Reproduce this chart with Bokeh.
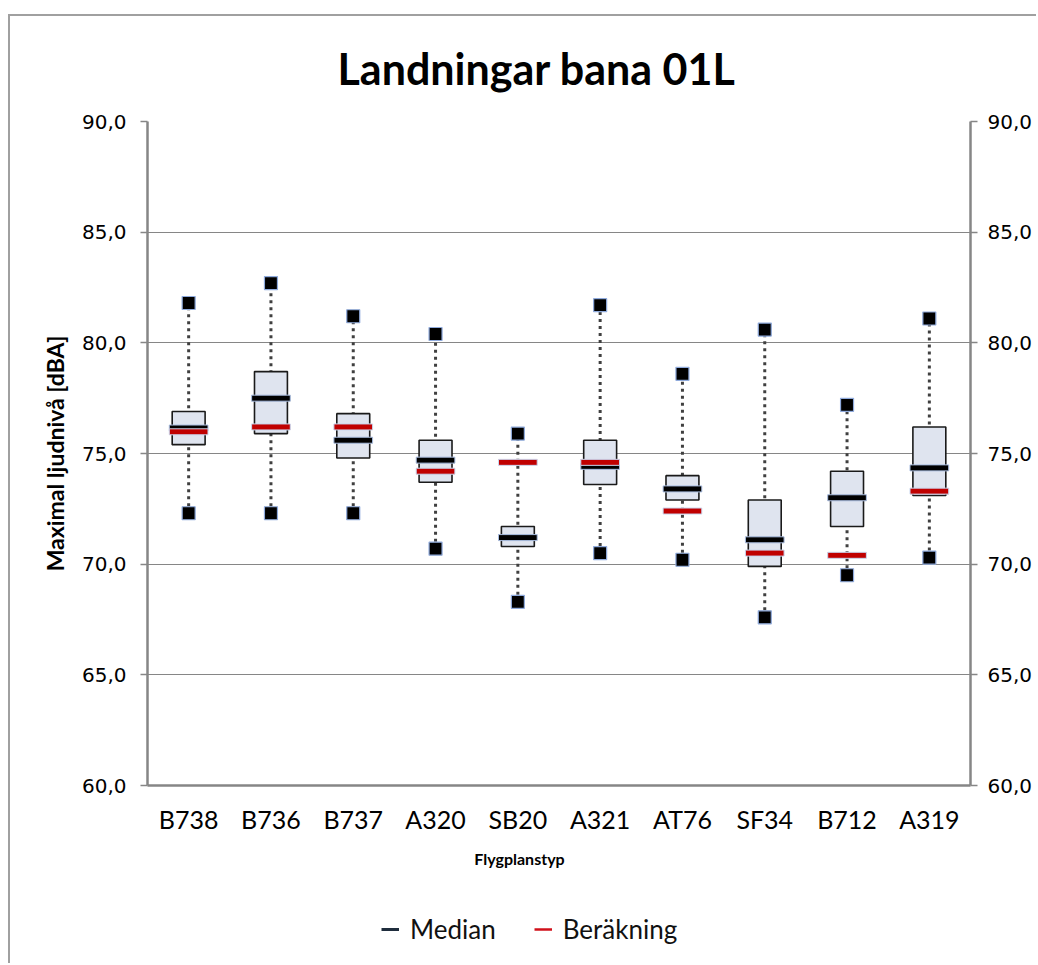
from bokeh.plotting import figure
from bokeh.models import (ColumnDataSource, LinearAxis, FixedTicker, CustomJSTickFormatter,
                          Legend, LegendItem, Range1d, FactorRange, Label)
from bokeh.layouts import column
from bokeh.embed import file_html
from bokeh.resources import INLINE

categories = ["B738", "B736", "B737", "A320", "SB20", "A321", "AT76", "SF34", "B712", "A319"]
max_vals = [81.8, 82.7, 81.2, 80.4, 75.9, 81.7, 78.6, 80.6, 77.2, 81.1]
min_vals = [72.3, 72.3, 72.3, 70.7, 68.3, 70.5, 70.2, 67.6, 69.5, 70.3]
q3_vals = [76.9, 78.7, 76.8, 75.6, 71.7, 75.6, 74.0, 72.9, 74.2, 76.2]
q1_vals = [75.4, 75.9, 74.8, 73.7, 70.8, 73.6, 72.9, 69.9, 71.7, 73.1]
median_vals = [76.15, 77.5, 75.6, 74.7, 71.2, 74.42, 73.4, 71.1, 73.0, 74.35]
berakning_vals = [75.98, 76.2, 76.2, 74.2, 74.6, 74.6, 72.4, 70.5, 70.4, 73.3]
y_ticks = [60, 65, 70, 75, 80, 85, 90]

src = ColumnDataSource(dict(cat=categories, lo=min_vals, hi=max_vals, q1=q1_vals,
                            q3=q3_vals, med=median_vals, ber=berakning_vals))

GRAY = "#868686"
W = 1036
H_TOP = 840
H_BOT = 123
FRAME_L = 147
FRAME_R = 970

p = figure(x_range=FactorRange(*categories), y_range=Range1d(60, 90),
           width=W, height=H_TOP, output_backend="svg", toolbar_location=None,
           min_border_left=FRAME_L, min_border_right=W - FRAME_R, min_border_top=121,
           min_border_bottom=55, title="Landningar bana 01L")
p.border_fill_alpha = 0
p.background_fill_color = "#ffffff"

p.title.align = "left"
p.title.offset = 190
p.title.text_font = "Lato"
p.title.text_font_size = "43px"
p.title.text_font_style = "bold"
p.title.text_color = "#000000"
p.title.standoff = 56
p.outline_line_color = None

# Grid
p.xgrid.grid_line_color = None
p.ygrid.grid_line_color = GRAY
p.ygrid.grid_line_width = 1.2
p.ygrid.ticker = FixedTicker(ticks=y_ticks)

fmt = CustomJSTickFormatter(code="return tick.toFixed(1).replace('.', ',');")

# left axis
ya = p.yaxis[0]
ya.ticker = FixedTicker(ticks=y_ticks)
ya.formatter = fmt
ya.axis_line_color = GRAY
ya.axis_line_width = 2.5
ya.major_tick_line_color = GRAY
ya.major_tick_line_width = 1.5
ya.major_tick_out = 7
ya.major_tick_in = 0
ya.minor_tick_line_color = None
ya.major_label_text_font = "DejaVu Sans"
ya.major_label_text_font_size = "20px"
ya.major_label_text_color = "#000000"
ya.major_label_standoff = 14
ya.axis_label = "Maximal ljudnivå [dBA]"
ya.axis_label_text_font = "Lato"
ya.axis_label_text_font_size = "23px"
ya.axis_label_text_font_style = "bold"
ya.axis_label_text_color = "#000000"
ya.axis_label_standoff = 10

# right axis
ra = LinearAxis(ticker=FixedTicker(ticks=y_ticks), formatter=fmt)
ra.axis_line_color = GRAY
ra.axis_line_width = 2.5
ra.major_tick_line_color = GRAY
ra.major_tick_line_width = 1.5
ra.major_tick_out = 7
ra.major_tick_in = 0
ra.minor_tick_line_color = None
ra.major_label_text_font = "DejaVu Sans"
ra.major_label_text_font_size = "20px"
ra.major_label_text_color = "#000000"
ra.major_label_standoff = 10
p.add_layout(ra, "right")

# x axis
xa = p.xaxis[0]
xa.axis_line_color = GRAY
xa.axis_line_width = 2.5
xa.major_tick_line_color = None
xa.minor_tick_line_color = None
xa.major_label_text_font = "Lato"
xa.major_label_text_font_size = "25px"
xa.major_label_text_color = "#000000"
xa.major_label_standoff = 12

# whiskers
p.segment(x0="cat", y0="lo", x1="cat", y1="hi", source=src, line_color="#404040",
          line_width=3, line_dash="3 4")
# boxes
p.vbar(x="cat", width=0.4, bottom="q1", top="q3", source=src, fill_color="#dfe4ef",
       line_color="#1a1a1a", line_width=1.6)
# min / max markers
p.scatter(x="cat", y="lo", source=src, marker="square", size=13, fill_color="#000000",
          line_color="#8faadc", line_width=1.2)
p.scatter(x="cat", y="hi", source=src, marker="square", size=13, fill_color="#000000",
          line_color="#8faadc", line_width=1.2)
# median and computed value
p.rect(x="cat", y="med", width=0.47, height=6, height_units="screen", source=src,
       fill_color="#000000", line_color="#a9bde0", line_width=1)
p.rect(x="cat", y="ber", width=0.47, height=6, height_units="screen", source=src,
       fill_color="#c00000", line_color="#c9d6ee", line_width=1)

# ---- bottom strip: x-axis title and legend (frame is aligned with the main frame) ----
q = figure(width=W, height=H_BOT, x_range=Range1d(FRAME_L, FRAME_R), y_range=Range1d(0, H_BOT),
           output_backend="svg", toolbar_location=None,
           x_axis_location=None, y_axis_location=None,
           min_border_left=FRAME_L, min_border_right=W - FRAME_R,
           min_border_top=0, min_border_bottom=0)
q.grid.grid_line_color = None
q.outline_line_color = None
q.border_fill_alpha = 0
q.background_fill_alpha = 0

q.add_layout(Label(x=519, y=H_BOT - 18, text="Flygplanstyp", text_align="center",
                   text_baseline="middle", text_font="Lato", text_font_size="16px",
                   text_font_style="bold", text_color="#000000"))

nan = float("nan")
l_med = q.line(x=[nan, nan], y=[nan, nan], line_color="#1f2d3d", line_width=3)
l_ber = q.line(x=[nan, nan], y=[nan, nan], line_color="#d0101a", line_width=2.5)
legend = Legend(items=[LegendItem(label="Median", renderers=[l_med]),
                       LegendItem(label="Beräkning", renderers=[l_ber])],
                orientation="horizontal", location=(381 - FRAME_L, 18),
                border_line_color=None, background_fill_alpha=0,
                label_text_font="Lato", label_text_font_size="26px",
                label_text_color="#111111", glyph_width=18, glyph_height=20,
                label_standoff=11, spacing=38, margin=0, padding=4)
q.add_layout(legend, "center")

layout = column(p, q, spacing=0)
layout.styles = {
    "background-image": "linear-gradient(#a0a0a0,#a0a0a0), linear-gradient(#a0a0a0,#a0a0a0)",
    "background-position": "8px 14px, 8px 14px",
    "background-size": "2px 100%, 100% 2px",
    "background-repeat": "no-repeat, no-repeat",
    "background-color": "#ffffff",
}

open("out.html", "w").write(file_html(layout, INLINE))
